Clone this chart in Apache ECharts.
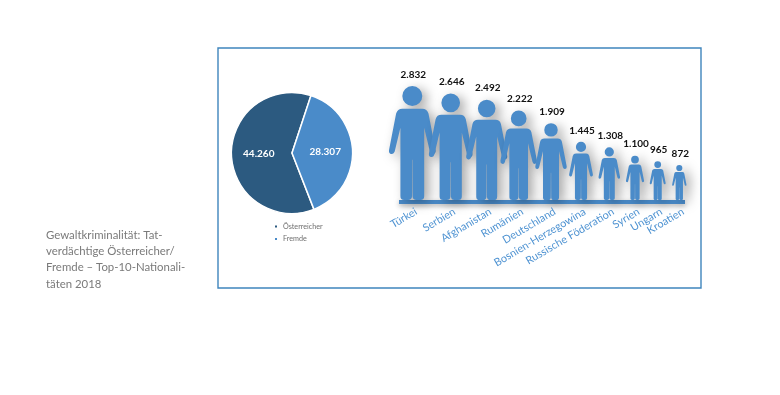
<!DOCTYPE html>
<html><head><meta charset="utf-8">
<style>html,body{margin:0;padding:0;background:#fff}#c{width:780px;height:395px}</style>
<script src="https://cdn.jsdelivr.net/npm/echarts@6/dist/echarts.min.js"></script>
</head><body><div id="c"></div>
<script>
const nationalities = ['Türkei','Serbien','Afghanistan','Rumänien','Deutschland','Bosnien-Herzegowina','Russische Föderation','Syrien','Ungarn','Kroatien'];
const suspects = [2832,2646,2492,2222,1909,1445,1308,1100,965,872];
const pieNames = ['Österreicher','Fremde'];
const pieValues = [44260,28307];
const captionLines = ['Gewaltkriminalität: Tat-','verdächtige Österreicher/','Fremde – Top-10-Nationali-','täten 2018'];

// layout
const standing = [32.3,70.7,106.7,138.7,171,201,229.3,255,277.7,299.3];
const personPath = 'M28 21A21 21 0 1 0 70 21A21 21 0 1 0 28 21Z M28 48L70 48Q80 48 83 58L98 135Q99 142 93 143Q88 144 86 138L74 88L74 232Q74 240 66 240L58 240Q50 240 49.6 232L49.4 155L48.6 155L48.4 232Q48 240 40 240L32 240Q24 240 24 232L24 88L12 138Q10 144 5 143Q-1 142 0 135L15 58Q18 48 28 48Z';
const BLUE='#4a8bc9', DARK='#2c5a80';
const fmt = v => String(v).replace(/\B(?=(\d{3})+$)/g,'.');
const pieData = pieNames.map((n,i)=>({name:n,value:pieValues[i],itemStyle:{color:i?BLUE:DARK},label:{formatter:fmt(pieValues[i])}}));
const seriesData = suspects.map((v,i)=>[standing[i],v,i]);

const chart = echarts.init(document.getElementById('c'),null,{renderer:'canvas'});
chart.setOption({
  animation:false,
  backgroundColor:'#fff',
  grid:{left:380,top:86,width:320,height:114,show:false},
  xAxis:{type:'value',min:0,max:320,show:false},
  yAxis:{type:'value',min:0,max:2832,show:false},
  legend:{
    data:pieNames,orient:'vertical',left:268,top:218,itemWidth:4,itemHeight:4,itemGap:5.5,icon:'rect',
    textStyle:{fontFamily:'Lato',fontSize:7.2,color:'#6f6f6f'}
  },
  series:[
    {type:'pie',center:[292,153],radius:[0,60.5],startAngle:-68.7,clockwise:true,data:pieData,
     itemStyle:{borderColor:'#fff',borderWidth:1.5},
     label:{position:'inside',color:'#fff',fontFamily:'Lato',fontWeight:'bold',fontSize:10},
     labelLine:{show:false},emphasis:{disabled:true},silent:true},
    {type:'custom',coordinateSystem:'cartesian2d',data:seriesData,clip:false,silent:true,
     encode:{x:0,y:1},
     renderItem:function(params,api){
       const x=api.value(0), v=api.value(1), i=api.value(2);
       const base=api.coord([x,0]), top=api.coord([x,v]);
       const h=base[1]-top[1], w=h*0.41;
       return {type:'group',children:[
         {type:'path',shape:{pathData:personPath,layout:'cover',x:base[0]-w/2,y:top[1],width:w,height:h},
          style:{fill:BLUE,shadowBlur:12,shadowColor:'rgba(0,0,0,0.35)',shadowOffsetX:5,shadowOffsetY:3}},
         {type:'text',x:base[0]+1,y:top[1]-6.5,
          style:{text:fmt(v),align:'center',verticalAlign:'bottom',fill:'#111',font:'bold 10px Lato'}},
         {type:'text',x:base[0]+1,y:base[1]+6,rotation:30.5*Math.PI/180,
          style:{text:nationalities[i],align:'right',verticalAlign:'top',fill:'#4f93d2',font:'10.8px Lato'}}
       ]};
     }}
  ],
  graphic:[
    {type:'rect',shape:{x:218,y:48,width:483,height:240},style:{fill:'none',stroke:'#3f85bd',lineWidth:1.4},z:-1},
    {type:'rect',shape:{x:399,y:200,width:286,height:4},style:{fill:BLUE,shadowBlur:5,shadowColor:'rgba(0,0,0,0.3)',shadowOffsetY:2},z:1},
    {type:'text',x:46,y:227,style:{text:captionLines.join('\n'),font:'11.4px Lato',lineHeight:16.3,fill:'#7a7a7a'}}
  ]
});
</script></body></html>
